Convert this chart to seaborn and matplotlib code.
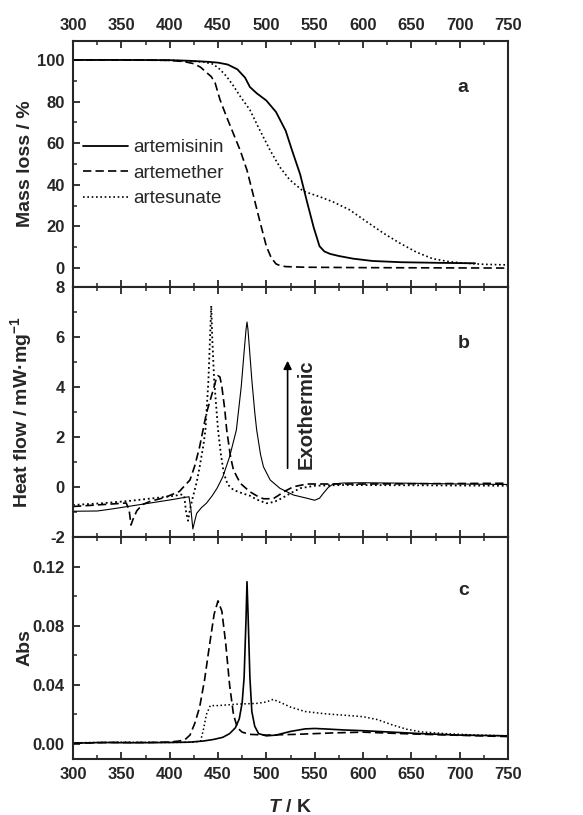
import numpy as np
import pandas as pd
import matplotlib
matplotlib.use("Agg")
import matplotlib.pyplot as plt
from matplotlib.ticker import MultipleLocator, FormatStrFormatter
import seaborn as sns

# ---------------- data ----------------
series_names = ["artemisinin", "artemether", "artesunate"]
x_ticks = [300, 350, 400, 450, 500, 550, 600, 650, 700, 750]

# panel a: mass loss (%)
Ta_artemisinin = [300, 350, 400, 420, 440, 450, 460, 470, 478, 483, 490, 500, 510, 520, 527, 535, 542, 549, 555, 560, 566, 575, 590, 610, 640, 680, 716]
Ma_artemisinin = [100, 100, 99.9, 99.6, 99.1, 98.7, 97.8, 95.5, 91.5, 87, 84, 80.5, 75, 66, 56, 45, 32, 19.5, 10.5, 8, 6.8, 5.8, 4.5, 3.4, 2.8, 2.5, 2.3]
Ta_artemether = [300, 350, 400, 415, 425, 432, 438, 443, 447, 452, 459, 466, 473, 480, 486, 493, 500, 505, 510, 514, 520, 540, 600, 750]
Ma_artemether = [100, 100, 99.8, 99.2, 98.2, 96.5, 94, 92, 89, 81, 72.5, 64.5, 56.5, 47, 36, 23, 10.5, 5, 2, 1.2, 0.7, 0.4, 0.2, 0]
Ta_artesunate = [300, 350, 400, 420, 435, 445, 452, 459, 466, 473, 483, 493, 504, 514, 524, 538, 555, 569, 586, 604, 621, 638, 655, 672, 690, 707, 725, 750]
Ma_artesunate = [100, 100, 99.8, 99.5, 99, 98, 95.5, 92, 87.5, 82.5, 76, 66.5, 56.5, 48.5, 42.5, 37, 34.3, 31.8, 28, 22.2, 16.8, 12, 7.7, 4.5, 3, 2.3, 1.8, 1.5]

# panel b: heat flow (mW/mg)
Tb_artemisinin = [300, 325, 340, 360, 380, 400, 415, 420, 422, 424, 426, 428, 433, 438, 444, 449, 455, 462, 469, 474, 477, 479, 480, 481, 483, 485, 488, 490, 494, 497, 504, 514, 528, 542, 550, 555, 559, 564, 569, 580, 600, 650, 700, 750]
Qb_artemisinin = [-0.97, -0.96, -0.88, -0.76, -0.64, -0.52, -0.42, -0.39, -0.9, -1.68, -1.35, -1.05, -0.82, -0.65, -0.35, -0.05, 0.41, 1.21, 2.28, 4.0, 5.4, 6.3, 6.6, 6.3, 5.3, 4.28, 3.0, 2.28, 1.3, 0.81, 0.28, -0.05, -0.32, -0.45, -0.53, -0.45, -0.25, -0.02, 0.12, 0.16, 0.17, 0.15, 0.12, 0.1]
Tb_artemether = [300, 320, 340, 355, 358, 360, 362, 366, 372, 380, 395, 410, 421, 426, 431, 438, 445, 448, 450, 452, 454, 457, 459, 463, 466, 473, 483, 490, 497, 507, 512, 518, 528, 542, 570, 600, 650, 700, 750]
Qb_artemether = [-0.78, -0.73, -0.68, -0.64, -0.9, -1.52, -1.3, -0.95, -0.7, -0.57, -0.42, -0.18, 0.28, 0.85, 1.61, 2.95, 3.88, 4.3, 4.45, 4.4, 4.01, 3.1, 2.28, 1.2, 0.68, 0.15, -0.19, -0.35, -0.47, -0.47, -0.35, -0.19, 0.01, 0.12, 0.12, 0.12, 0.13, 0.14, 0.15]
Tb_artesunate = [300, 330, 360, 390, 405, 412, 415, 417, 419, 421, 424, 428, 431, 435, 437, 440, 442, 443, 444, 446, 450, 453, 456, 460, 466, 475, 483, 490, 500, 508, 516, 525, 535, 550, 580, 650, 750]
Qb_artesunate = [-0.72, -0.65, -0.55, -0.42, -0.35, -0.3, -0.35, -1.0, -1.35, -0.9, -0.4, 0.2, 0.8, 1.7, 2.3, 4.2, 6.2, 7.25, 6.0, 4.3, 2.3, 1.3, 0.55, 0.1, -0.12, -0.25, -0.35, -0.5, -0.65, -0.6, -0.45, -0.25, -0.05, 0.05, 0.08, 0.07, 0.05]

# panel c: absorbance
Tc_artemisinin = [300, 330, 360, 400, 420, 435, 445, 455, 462, 468, 472, 475, 477, 479, 480, 481, 483, 485, 488, 492, 500, 510, 525, 540, 550, 560, 580, 600, 630, 660, 700, 750]
Ac_artemisinin = [0.0005, 0.001, 0.0008, 0.001, 0.0012, 0.002, 0.003, 0.0045, 0.007, 0.011, 0.017, 0.028, 0.045, 0.085, 0.110, 0.09, 0.045, 0.022, 0.012, 0.007, 0.0055, 0.006, 0.0085, 0.0102, 0.0105, 0.0102, 0.0095, 0.009, 0.008, 0.007, 0.006, 0.0055]
Tc_artemether = [300, 340, 380, 400, 410, 416, 421, 426, 431, 436, 441, 446, 450, 454, 458, 462, 466, 470, 475, 483, 500, 530, 570, 600, 640, 680, 750]
Ac_artemether = [0.0005, 0.001, 0.001, 0.0013, 0.002, 0.003, 0.006, 0.014, 0.025, 0.043, 0.066, 0.088, 0.097, 0.09, 0.068, 0.04, 0.02, 0.011, 0.008, 0.0065, 0.006, 0.0065, 0.0075, 0.008, 0.007, 0.0062, 0.005]
Tc_artesunate = [300, 350, 400, 425, 432, 435, 438, 442, 450, 470, 490, 500, 507, 515, 525, 540, 560, 580, 600, 615, 630, 645, 660, 690, 720, 750]
Ac_artesunate = [0.0008, 0.0012, 0.001, 0.0012, 0.002, 0.01, 0.02, 0.026, 0.026, 0.027, 0.0275, 0.0285, 0.0302, 0.028, 0.025, 0.022, 0.0205, 0.0195, 0.0185, 0.0165, 0.013, 0.01, 0.0082, 0.0068, 0.006, 0.0055]

# ---------------- style ----------------
sns.set_style("ticks")
plt.rcParams["font.family"] = ["Liberation Sans", "DejaVu Sans"]
plt.rcParams["axes.unicode_minus"] = False
plt.rcParams["mathtext.fontset"] = "custom"
plt.rcParams["mathtext.rm"] = "Liberation Sans:bold"
plt.rcParams["mathtext.it"] = "Liberation Sans:italic:bold"
plt.rcParams["mathtext.bf"] = "Liberation Sans:bold"

styles = {"artemisinin": dict(linestyle="-"),
          "artemether": dict(linestyle=(0, (5, 2.5))),
          "artesunate": dict(linestyle=(0, (1, 1.6)))}

fig = plt.figure(figsize=(5.83, 8.15), dpi=100)
L, W = 73 / 583, 435 / 583
def rect(top_px, bot_px):
    return [L, 1 - bot_px / 815, W, (bot_px - top_px) / 815]

ax_a = fig.add_axes(rect(41, 287))
ax_b = fig.add_axes(rect(287, 537))
ax_c = fig.add_axes(rect(537, 759))

def draw(ax, data, lws):
    for name, (xs, ys) in data.items():
        df = pd.DataFrame({"T": xs, "v": ys})
        sns.lineplot(data=df, x="T", y="v", ax=ax, color="black",
                     lw=lws[name], label=name, estimator=None, sort=False,
                     **styles[name])

draw(ax_a, {"artemisinin": (Ta_artemisinin, Ma_artemisinin),
            "artemether": (Ta_artemether, Ma_artemether),
            "artesunate": (Ta_artesunate, Ma_artesunate)},
     {"artemisinin": 1.3, "artemether": 1.2, "artesunate": 1.2})
draw(ax_b, {"artemisinin": (Tb_artemisinin, Qb_artemisinin),
            "artemether": (Tb_artemether, Qb_artemether),
            "artesunate": (Tb_artesunate, Qb_artesunate)},
     {"artemisinin": 0.8, "artemether": 1.2, "artesunate": 1.3})
draw(ax_c, {"artemisinin": (Tc_artemisinin, Ac_artemisinin),
            "artemether": (Tc_artemether, Ac_artemether),
            "artesunate": (Tc_artesunate, Ac_artesunate)},
     {"artemisinin": 1.2, "artemether": 1.2, "artesunate": 1.1})

TICK_FS = 12
for ax in (ax_a, ax_b, ax_c):
    ax.set_xlim(300, 750)
    ax.set_xticks(x_ticks)
    ax.xaxis.set_minor_locator(MultipleLocator(25))
    for s in ax.spines.values():
        s.set_linewidth(1.5)
        s.set_visible(True)
    ax.tick_params(axis="x", which="both", direction="in", top=True, bottom=True,
                   labelbottom=False, labeltop=False)
    ax.tick_params(axis="y", which="both", direction="in", left=True, right=False)
    ax.tick_params(which="major", length=5, width=1.3, labelsize=TICK_FS)
    ax.tick_params(axis="x", which="major", pad=6)
    ax.tick_params(axis="y", which="major", pad=6)
    ax.tick_params(which="minor", length=3, width=1.1)
    ax.set_xlabel("")

# panel a
ax_a.set_ylim(-9.1, 109.1)
ax_a.set_yticks([0, 20, 40, 60, 80, 100])
ax_a.yaxis.set_minor_locator(MultipleLocator(10))
ax_a.tick_params(axis="x", labeltop=True)
ax_a.set_ylabel("Mass loss / %", fontsize=14, fontweight="bold")
leg = ax_a.legend(loc="center left", bbox_to_anchor=(0.023, 0.463), frameon=False,
                  fontsize=13.5, handlelength=2.4, handletextpad=0.3,
                  labelspacing=0.45, borderpad=0, borderaxespad=0)
ax_a.text(0.897, 0.81, "a", transform=ax_a.transAxes, fontsize=14,
          fontweight="bold", ha="center", va="center")

# panel b
ax_b.set_ylim(-2, 8)
ax_b.set_yticks([-2, 0, 2, 4, 6, 8])
ax_b.yaxis.set_minor_locator(MultipleLocator(1))
ax_b.set_ylabel("Heat flow / mW\u00b7mg$^{-1}$", fontsize=14, fontweight="bold")
ax_b.get_legend().remove()
ax_b.annotate("", xy=(522, 5.05), xytext=(522, 0.75),
              arrowprops=dict(arrowstyle="-|>", lw=1.2, color="black",
                              mutation_scale=12, shrinkA=0, shrinkB=0))
ax_b.text(541, 2.9, "Exothermic", rotation=90, fontsize=14.5, fontweight="bold",
          ha="center", va="center")
ax_b.text(0.897, 0.776, "b", transform=ax_b.transAxes, fontsize=14,
          fontweight="bold", ha="center", va="center")

# panel c
ax_c.set_ylim(-0.0102, 0.1403)
ax_c.set_yticks([0.00, 0.04, 0.08, 0.12])
ax_c.yaxis.set_major_formatter(FormatStrFormatter("%.2f"))
ax_c.yaxis.set_minor_locator(MultipleLocator(0.02))
ax_c.tick_params(axis="x", labelbottom=True)
ax_c.set_ylabel("Abs", fontsize=14, fontweight="bold")
ax_c.set_xlabel("$T$ / K", fontsize=14, fontweight="bold", labelpad=12)
ax_c.get_legend().remove()
ax_c.text(0.897, 0.761, "c", transform=ax_c.transAxes, fontsize=14,
          fontweight="bold", ha="center", va="center")

for ax in (ax_a, ax_b, ax_c):
    ax.yaxis.set_label_coords(-0.09, 0.5)
    for lab in ax.get_xticklabels() + ax.get_yticklabels():
        lab.set_fontweight("bold")

fig.savefig("out.png", dpi=100)
